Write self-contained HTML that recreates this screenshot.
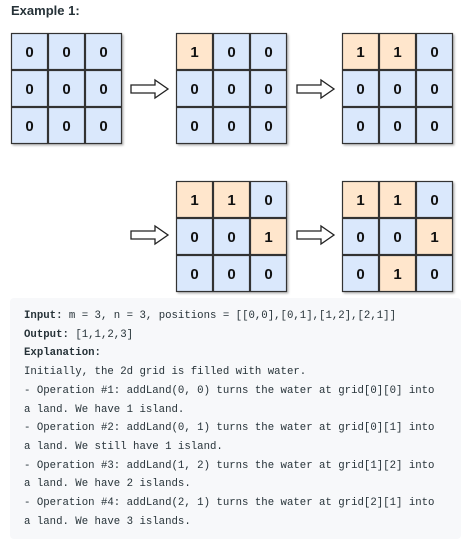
<!DOCTYPE html>
<html><head><meta charset="utf-8"><style>
body{margin:0;background:#fff;width:468px;height:553px;overflow:hidden;position:relative;font-family:"Liberation Sans",sans-serif}
.t{position:absolute;left:11px;top:3px;font-weight:bold;font-size:13px;color:#263238}
pre{position:absolute;left:10px;top:298px;width:451px;height:241px;margin:0;background:#f7f8fa;border-radius:4px;box-sizing:border-box;padding:9px 0 0 14px;font-family:"Liberation Mono",monospace;font-size:10.7px;line-height:18.7px;color:#263238}
pre b{font-weight:bold}
</style></head><body>
<div class="t">Example 1:</div>
<svg width="468" height="298" style="position:absolute;left:0;top:0" font-family="Liberation Sans" font-weight="bold" font-size="15">
<defs>
<filter id="s"><feDropShadow dx="1.5" dy="1.5" stdDeviation="1" flood-opacity="0.3"/></filter>
</defs>
<g id="grids"></g>
</svg>
<pre><b>Input:</b> m = 3, n = 3, positions = [[0,0],[0,1],[1,2],[2,1]]
<b>Output:</b> [1,1,2,3]
<b>Explanation:</b>
Initially, the 2d grid is filled with water.
- Operation #1: addLand(0, 0) turns the water at grid[0][0] into
a land. We have 1 island.
- Operation #2: addLand(0, 1) turns the water at grid[0][1] into
a land. We still have 1 island.
- Operation #3: addLand(1, 2) turns the water at grid[1][2] into
a land. We have 2 islands.
- Operation #4: addLand(2, 1) turns the water at grid[2][1] into
a land. We have 3 islands.</pre>
<script>
const g=document.getElementById('grids');
const grids=[[11,33,"000000000"],[176,33,"100000000"],[342,33,"110000000"],[176,181,"110001000"],[342,181,"110001010"]];
let h='';
for(const [x,y,v] of grids){
 h+=`<rect x="${x}" y="${y}" width="111" height="111" fill="#333" filter="url(#s)"/>`;
 for(let i=0;i<9;i++){const r=Math.floor(i/3),c=i%3,cx=x+c*37,cy=y+r*37,one=v[i]=='1';
  h+=`<rect x="${cx+0.5}" y="${cy+0.5}" width="36" height="36" fill="${one?'#ffe6cc':'#dae8fc'}" stroke="#333" stroke-width="1.2"/>`;
  h+=`<text x="${cx+18.5}" y="${cy+24}" text-anchor="middle" fill="#111">${v[i]}</text>`;}
}
const arrows=[[131,89],[297,89],[131,235],[297,235]];
for(const [x,y] of arrows){
 h+=`<path d="M${x} ${y-4}H${x+24}V${y-9}L${x+37} ${y}L${x+24} ${y+9}V${y+4}H${x}Z" fill="#fff" stroke="#222" stroke-width="1.3"/>`;
}
g.innerHTML=h;
</script>
</body></html>
